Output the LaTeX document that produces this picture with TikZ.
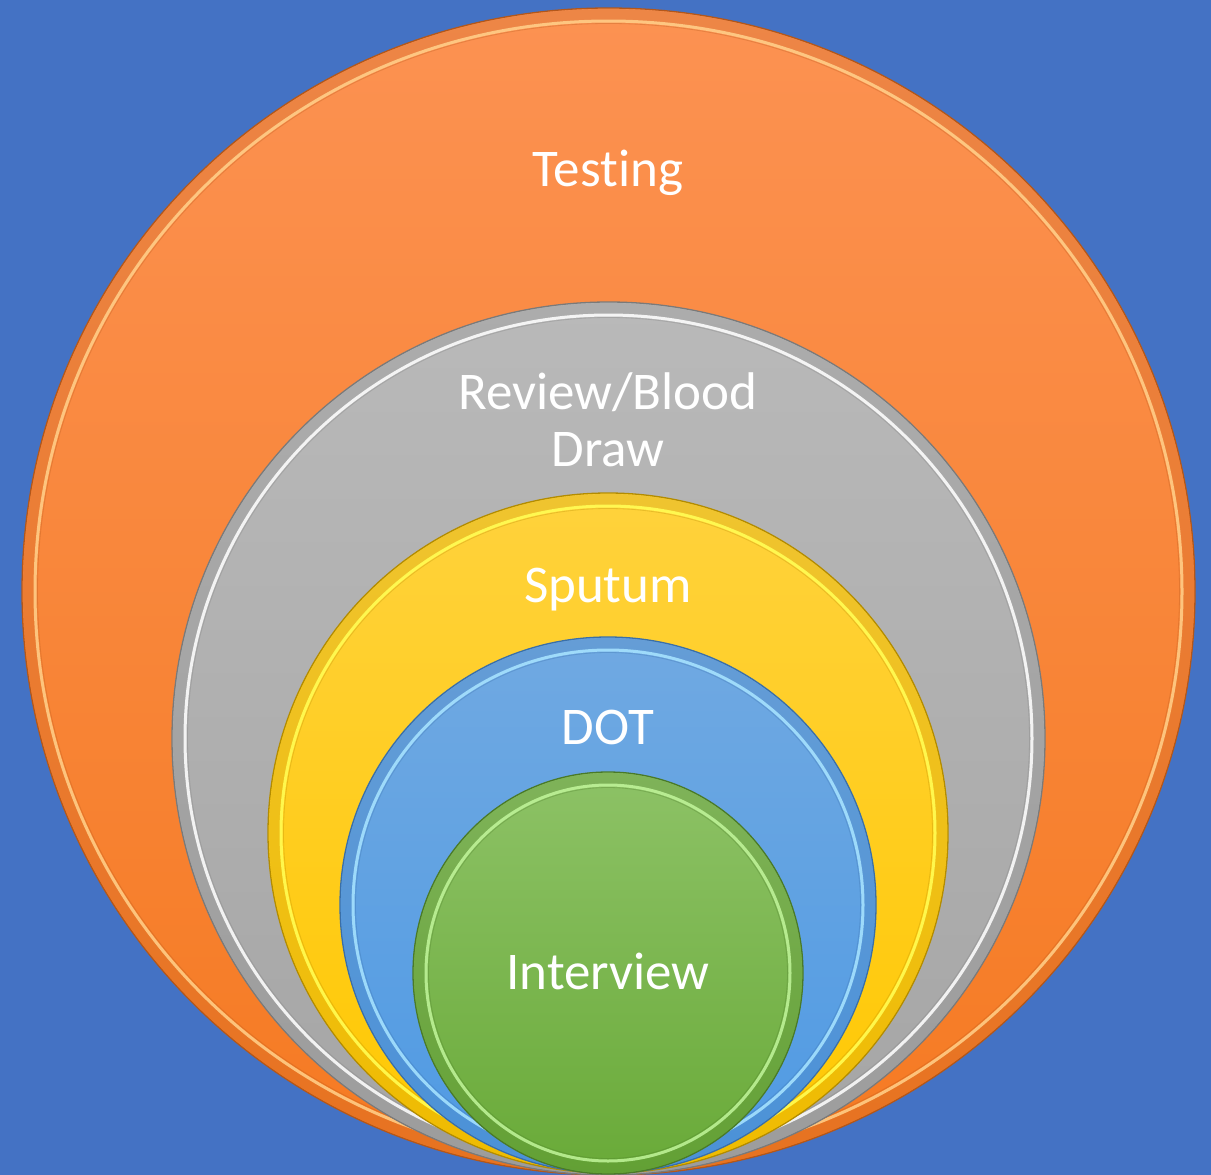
\documentclass[tikz,border=0pt]{standalone}
\usepackage{fontspec}
\setmainfont{Carlito}[Ligatures=NoCommon]
\usetikzlibrary{shapes.geometric}

\definecolor{slide}{HTML}{4472C4}
% ring colours: top of fill, bottom of fill, outline, glint
\definecolor{orTop}{HTML}{FC9252}\definecolor{orBot}{HTML}{F57A22}
\definecolor{orEdge}{HTML}{B3571A}\definecolor{orGlint}{HTML}{FFD08A}
\definecolor{grTop}{HTML}{B9B9B9}\definecolor{grBot}{HTML}{A5A5A5}
\definecolor{grEdge}{HTML}{7A7A7A}\definecolor{grGlint}{HTML}{FFFFFF}
\definecolor{ylTop}{HTML}{FFD23C}\definecolor{ylBot}{HTML}{FFC800}
\definecolor{ylEdge}{HTML}{B38C00}\definecolor{ylGlint}{HTML}{FFFF55}
\definecolor{blTop}{HTML}{70A9E2}\definecolor{blBot}{HTML}{4F9AE3}
\definecolor{blEdge}{HTML}{3A6FA8}\definecolor{blGlint}{HTML}{A8E4FF}
\definecolor{gnTop}{HTML}{8DC266}\definecolor{gnBot}{HTML}{69AA38}
\definecolor{gnEdge}{HTML}{4A7A28}\definecolor{gnGlint}{HTML}{C0F49A}

\tikzset{
  ring/.style={ellipse, inner sep=0pt, line width=1.3pt},
  caption/.style={text=white, font=\fontsize{53}{57}\selectfont, align=center, inner sep=0pt},
}

% \bevelring{name}{cx}{cy}{width}{height}{prefix}
\newcommand\bevelring[6]{%
  \node[ring, name=#1, minimum width=#4pt, minimum height=#5pt,
        top color=#6Top, bottom color=#6Bot, draw=#6Edge] at (#2,#3) {};
  \draw[#6Edge, line width=11pt, opacity=.2]
    (#2,#3) ellipse [x radius=#4/2-6.5, y radius=#5/2-6.5];
  \draw[#6Glint, line width=3pt, opacity=.85]
    (#2,#3) ellipse [x radius=#4/2-13, y radius=#5/2-13];
  \draw[#6Edge, line width=.8pt, opacity=.3]
    (#2,#3) ellipse [x radius=#4/2-15.5, y radius=#5/2-15.5];
}

\begin{document}
\begin{tikzpicture}[x=1pt, y=-1pt]
  \fill[slide] (0,0) rectangle (1211,1175);
  \useasboundingbox (0,0) rectangle (1211,1175);

  \bevelring{testing}{608.5}{591.5}{1173}{1167}{or}
  \bevelring{review}{608.5}{738.5}{873}{873}{gr}
  \bevelring{sputum}{608}{833}{680}{680}{yl}
  \bevelring{dot}{608}{905}{536}{536}{bl}
  \bevelring{interview}{608}{973}{390}{402}{gn}

  \node[caption, anchor=base] (tTesting) at (608,186) {Testing};
  \node[caption, anchor=base] (tReview) at (608,466) {Review/Blood\\Draw};
  \node[caption, anchor=base] (tSputum) at (608,602) {Sputum};
  \node[caption, anchor=base] (tDot) at (608,744) {DOT};
  \node[caption, anchor=base] (tInterview) at (608,989) {Interview};
\end{tikzpicture}
\end{document}
